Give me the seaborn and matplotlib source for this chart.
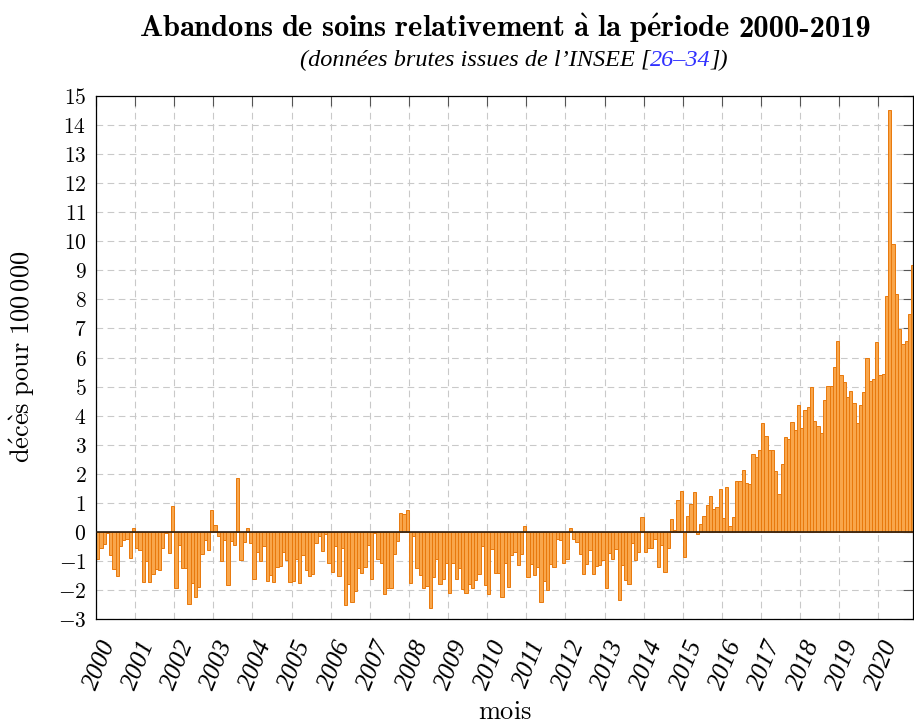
"""
Abandons de soins 2000-2020 : écart mensuel de décès (pour 100 000)
relativement à la période 2000-2019, barres mensuelles.
"""

import numpy as np
import pandas as pd
import matplotlib
matplotlib.use("Agg")
import matplotlib.pyplot as plt
import matplotlib.transforms as mtransforms
import seaborn as sns
from matplotlib.offsetbox import TextArea, HPacker, AnchoredOffsetbox

sns.set_theme(style="white")
plt.rcParams.update({
    "mathtext.fontset": "cm",
    "text.color": "black",
    "axes.labelcolor": "black",
    "xtick.color": "black",
    "ytick.color": "black",
})

# ── Données ─────────────────────────────────────────────────────────────────
y2000 = [-0.94, -0.54, -0.43, -0.05, -0.80, -1.29, -1.53, -0.49, -0.29, -0.25, -0.89, 0.13]
y2001 = [-0.56, -0.61, -1.71, -1.00, -1.71, -1.46, -1.29, -1.31, -0.56, -0.05, -0.74, 0.90]
y2002 = [-1.92, -0.45, -1.23, -1.26, -2.49, -1.77, -2.25, -1.90, -0.77, -0.29, -0.62, 0.75]
y2003 = [0.24, -0.14, -1.02, -0.29, -1.84, -0.33, -0.46, 1.85, -0.97, -0.34, 0.13, -0.39]
y2004 = [-1.62, -0.70, -1.01, -0.49, -1.70, -1.47, -1.74, -1.21, -1.16, -0.68, -0.98, -1.71]
y2005 = [-1.69, -0.94, -1.77, -0.80, -1.32, -1.53, -1.46, -0.40, -0.16, -0.66, -0.08, -1.06]
y2006 = [-1.38, -0.49, -1.53, -0.54, -2.53, -1.78, -2.41, -2.03, -1.26, -1.43, -1.20, -0.46]
y2007 = [-1.61, -0.05, -0.94, -1.06, -2.14, -1.92, -1.94, -0.77, -0.33, 0.64, 0.61, 0.75]
y2008 = [-1.75, -0.15, -1.23, -1.48, -1.94, -1.86, -2.63, -1.55, -0.94, -1.78, -1.63, -1.08]
y2009 = [-2.10, -1.06, -1.61, -1.25, -1.98, -2.09, -1.80, -1.95, -1.66, -1.46, -0.49, -1.84]
y2010 = [-2.14, -0.60, -1.43, -1.40, -2.26, -1.06, -1.89, -0.79, -0.70, -1.15, -0.77, 0.20]
y2011 = [-1.57, -1.11, -1.48, -1.20, -2.40, -1.69, -1.99, -1.11, -1.20, -0.23, -0.29, -1.08]
y2012 = [-0.92, 0.12, -0.23, -0.34, -0.77, -1.44, -1.11, -0.62, -1.46, -1.18, -1.14, -0.98]
y2013 = [-1.92, -0.74, -0.94, -0.60, -2.36, -1.15, -1.66, -1.80, -0.37, -0.98, -0.68, 0.52]
y2014 = [-0.71, -0.54, -0.54, -0.24, -1.20, -0.44, -1.38, -0.55, 0.44, 0.07, 1.10, 1.39]
y2015 = [-0.85, 0.53, 0.97, 1.38, -0.07, 0.28, 0.54, 0.92, 1.23, 0.79, 0.84, 1.48]
y2016 = [0.48, 1.55, 0.21, 0.52, 1.74, 1.75, 2.13, 1.69, 1.64, 2.69, 2.59, 2.80]
y2017 = [3.75, 3.30, 2.80, 2.80, 2.08, 1.29, 2.35, 3.26, 3.19, 3.78, 3.49, 4.35]
y2018 = [3.56, 4.19, 4.30, 4.98, 3.83, 3.64, 3.39, 4.53, 5.02, 5.03, 5.67, 6.56]
y2019 = [5.40, 5.17, 4.65, 4.86, 4.42, 3.75, 4.36, 4.80, 5.97, 5.19, 5.26, 6.52]
y2020 = [5.40, 5.43, 8.13, 14.53, 9.90, 8.19, 6.97, 6.47, 6.58, 7.48, 9.19]

years = [str(a) for a in range(2000, 2021)]
y_ticks = list(range(-3, 16))

values = (y2000 + y2001 + y2002 + y2003 + y2004 + y2005 + y2006 + y2007
          + y2008 + y2009 + y2010 + y2011 + y2012 + y2013 + y2014 + y2015
          + y2016 + y2017 + y2018 + y2019 + y2020)
months = pd.date_range("2000-01-01", periods=len(values), freq="MS").strftime("%Y-%m")
df = pd.DataFrame({"mois": months, "deces": values})

FILL = "#f9a64b"
EDGE = "#e8790c"
ITALIC = dict(fontfamily="Liberation Serif", style="italic")


def tex(s, style="rm"):
    """Texte simple -> mathtext Computer Modern (accents, espaces)."""
    s = (s.replace(" ", r"\ ").replace("é", r"\acute{e}")
         .replace("è", r"\grave{e}").replace("à", r"\grave{a}"))
    return r"$\math%s{%s}$" % (style, s)


# ── Figure ───────────────────────────────────────────────────────────────────
fig = plt.figure(figsize=(9.14, 7.25), dpi=100)
ax = fig.add_axes([96 / 914, 106 / 725, 817 / 914, 523 / 725])

sns.barplot(data=df, x="mois", y="deces", ax=ax, color=FILL, saturation=1,
            edgecolor=EDGE, linewidth=0.7, width=1.0, errorbar=None, zorder=2)
ax.axhline(0, color="#2a1c10", linewidth=1.2, zorder=3)

ax.set_xlim(-0.5, 250.1)
ax.set_ylim(-3, 15)
ax.set_xticks([12 * i - 0.5 for i in range(len(years))])
ax.set_xticklabels(years, rotation=68, ha="left", va="top", fontsize=18.5, **ITALIC)
ax.set_yticks(y_ticks)
ax.set_yticklabels([tex(str(v)) for v in y_ticks], fontsize=15.5)
ax.tick_params(direction="in", length=7, width=0.8, color="#555555",
               top=True, right=True, pad=7)
ax.tick_params(axis="x", pad=13)

# décale les années vers la gauche
shift = mtransforms.ScaledTranslation(-16 / 100, 0, fig.dpi_scale_trans)
for lbl in ax.get_xticklabels():
    lbl.set_transform(lbl.get_transform() + shift)

ax.grid(True, color="#c9c9c9", linestyle=(0, (6, 4)), linewidth=0.8)
ax.set_axisbelow(True)
for sp in ax.spines.values():
    sp.set_color("black")
    sp.set_linewidth(0.9)
ax.set_xlabel("")
ax.set_ylabel("")

# ── Textes ───────────────────────────────────────────────────────────────────
cx = 505 / 914


def centered_row(children, x, y, sep=0):
    box = AnchoredOffsetbox(loc="center", child=HPacker(children=children, pad=0, sep=sep),
                            bbox_to_anchor=(x, y), bbox_transform=fig.transFigure,
                            frameon=False, pad=0, borderpad=0)
    ax.add_artist(box)


centered_row([
    TextArea(tex("Abandons de soins relativement à la période", "bf"),
             textprops=dict(color="black", fontsize=22)),
    TextArea("2000-2019", textprops=dict(color="black", fontsize=22, fontfamily="cmb10")),
], cx, 1 - 28 / 725, sep=6)

centered_row([
    TextArea("(données brutes issues de l’INSEE [", textprops=dict(color="black", fontsize=17.5, **ITALIC)),
    TextArea("26–34", textprops=dict(color="#3030ff", fontsize=17.5, **ITALIC)),
    TextArea("])", textprops=dict(color="black", fontsize=17.5, **ITALIC)),
], 514 / 914, 1 - 60 / 725)

fig.text(22 / 914, 1 - 357 / 725, tex(r"décès pour 100\,000"), rotation=90,
         ha="center", va="center", fontsize=19)
fig.text(cx, 1 - 712 / 725, tex("mois"), ha="center", va="center", fontsize=19)

plt.savefig("out.png", dpi=100)
